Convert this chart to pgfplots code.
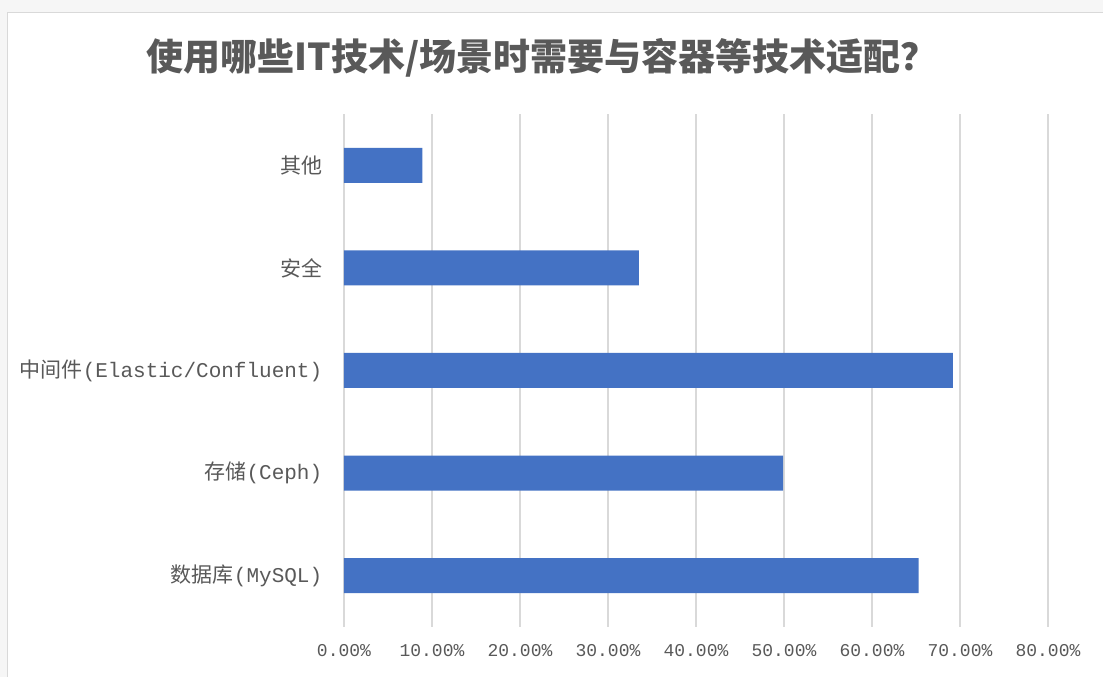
\documentclass[border=0pt]{standalone}
\usepackage{pgfplots}
\pgfplotsset{compat=1.18}
\usepackage{fontspec}
\setmainfont{Liberation Mono}
\newfontfamily\cjk{Noto Sans CJK SC}
\definecolor{barblue}{HTML}{4472C4}
\definecolor{gridgray}{HTML}{D9D9D9}
\definecolor{txtgray}{HTML}{595959}
\begin{document}
\begin{tikzpicture}
\useasboundingbox (-344pt,-50pt) rectangle (759pt,627pt);
\fill[gray!7] (-344pt,-50pt) rectangle (759pt,627pt);
\fill[white, draw=gray!30, line width=1pt] (-336pt,-70pt) rectangle (780pt,614pt);
\node[text=txtgray, font=\cjk\bfseries\fontsize{37}{37}\selectfont] at (198pt,569pt) {使用哪些IT技术/场景时需要与容器等技术适配？};
\begin{axis}[
  scale only axis,
  width=704pt, height=513pt,
  xmin=0, xmax=80, ymin=-0.5, ymax=4.5,
  xtick={0,10,20,30,40,50,60,70,80},
  xticklabels={0.00\%,10.00\%,20.00\%,30.00\%,40.00\%,50.00\%,60.00\%,70.00\%,80.00\%},
  ytick={0,1,2,3,4},
  yticklabels={{\cjk 数据库}(MySQL),{\cjk 存储}(Ceph),{\cjk 中间件}(Elastic/Confluent),{\cjk 安全},{\cjk 其他}},
  xmajorgrids,
  grid style={gridgray, line width=1.2pt},
  axis line style={draw=none},
  tick style={draw=none},
  xticklabel style={text=txtgray, font=\fontsize{18}{18}\selectfont, yshift=-14pt},
  yticklabel style={text=txtgray, font=\fontsize{21}{21}\selectfont, xshift=-14pt},
  xbar, bar width=35pt,
]
\addplot[fill=barblue, draw=none] coordinates {(65.3,0) (49.9,1) (69.2,2) (33.5,3) (8.9,4)};
\end{axis}
\end{tikzpicture}
\end{document}
